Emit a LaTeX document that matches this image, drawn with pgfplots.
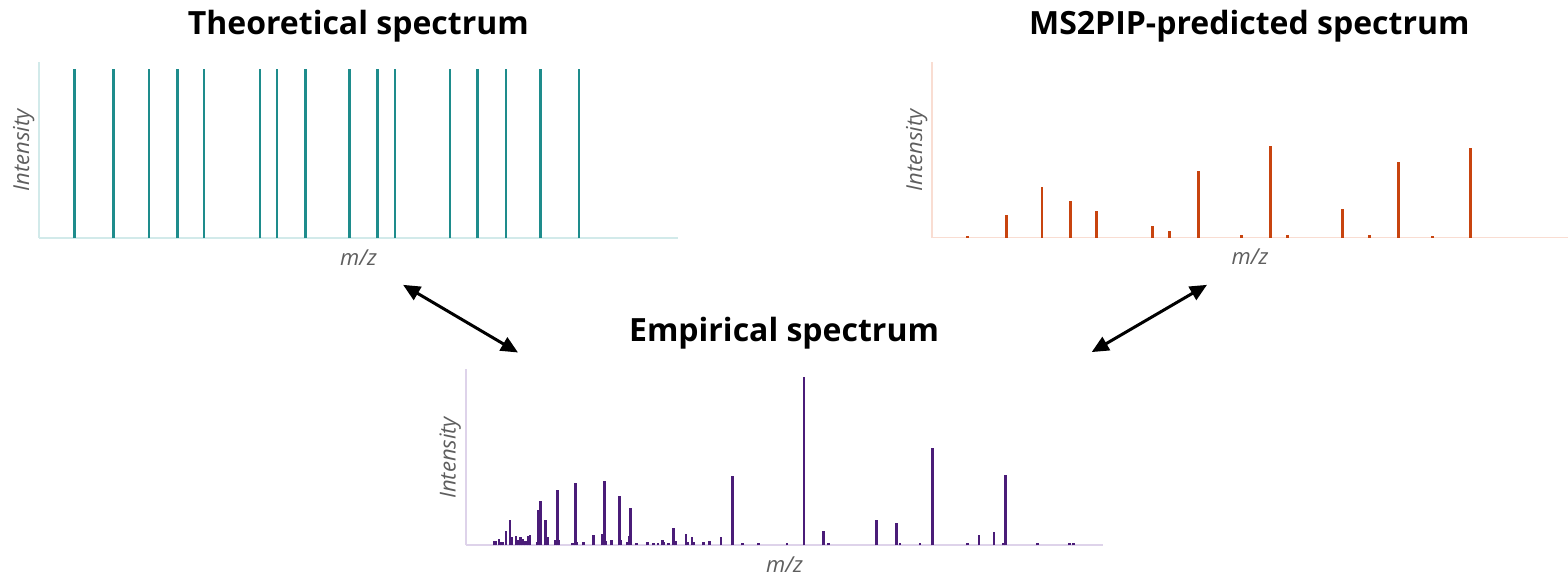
\documentclass[border=0pt]{standalone}
\usepackage{fontspec}
\setmainfont{Open Sans}
\usepackage{pgfplots}
\pgfplotsset{compat=1.18}
\usetikzlibrary{arrows.meta}
\definecolor{theoCol}{HTML}{1E8C8C}
\definecolor{theoAxis}{HTML}{D2EAEA}
\definecolor{predCol}{HTML}{C8440F}
\definecolor{predAxis}{HTML}{F9DDD2}
\definecolor{empCol}{HTML}{4A1C78}
\definecolor{empAxis}{HTML}{DED3EA}
\definecolor{lblGray}{HTML}{5E5E5E}
\pgfplotsset{
  spec base/.style={
    scale only axis, anchor=south west,
    ymin=0, ymax=176,
    axis x line*=bottom, axis y line*=left,
    xtick=\empty, ytick=\empty,
    clip=false,
    xlabel={\textit{m/z}}, ylabel={\textit{Intensity}},
    every axis x label/.style={at={([yshift=-0.11cm]axis description cs:0.5,0)},
      anchor=north, inner sep=0pt, font=\fontsize{0.22cm}{0.26cm}\selectfont, text=lblGray},
    every axis y label/.style={at={([xshift=-0.04cm]axis description cs:0,0.5)},
      rotate=90, anchor=south, inner sep=0pt, font=\fontsize{0.22cm}{0.26cm}\selectfont, text=lblGray},
  }
}
\newcommand{\ttl}{\fontsize{0.32cm}{0.38cm}\selectfont\bfseries}

\begin{document}
\begin{tikzpicture}
% theoretical
\begin{axis}[spec base, at={(0.39cm,3.36cm)}, width=6.39cm, height=1.76cm,
  xmin=39, xmax=678, axis line style={-, draw=theoAxis, line width=0.017cm}]
\addplot[ycomb, color=theoCol, line width=0.029cm] coordinates {
  (74.7,169)(113.7,169)(149,169)(177.7,169)(204,169)(260,169)(277,169)(305.7,169)
  (349.3,169)(377.7,169)(395,169)(450,169)(477.3,169)(506,169)(540.3,169)(579,169)
};
\end{axis}
% predicted
\begin{axis}[spec base, at={(9.32cm,3.365cm)}, width=6.36cm, height=1.755cm,
  xmin=932, xmax=1568, axis line style={-, draw=predAxis, line width=0.017cm}]
\addplot[ycomb, color=predCol, line width=0.028cm] coordinates {
  (967.7,1.5)(1006.3,23)(1042,50.6)(1070.3,37)(1096.7,26.3)(1152.7,11.3)(1169.7,7)
  (1198.3,66.6)(1241.7,2.5)(1270.3,92)(1287.7,2.5)(1342.3,28.7)(1369.7,2.5)
  (1398.3,76)(1432.3,1.5)(1470.7,89.7)
};
\end{axis}
% empirical
\begin{axis}[spec base, at={(4.657cm,0.287cm)}, width=6.376cm, height=1.76cm,
  xmin=465.7, xmax=1103.3, axis line style={-, draw=empAxis, line width=0.017cm}]
\addplot[ycomb, color=empCol, line width=0.025cm] coordinates {
  (494,4)(496,4)(499,6.6)(501.3,3)(503,3)(506,14.6)(510,25)(512,8)(516,9)(518.3,5)
  (520.7,8)(522.7,6)(525.3,4)(528,9.6)(530,10)(537.7,3)(538.7,35)(540.3,44.6)
  (545.7,25)(547.3,8)(555.7,5)(557.7,55)(559,5)(572.3,2)(575.3,62)(577,3)(583.7,3)
  (593.3,10)(602,11)(604.3,64)(605.7,4)(611.7,5)(619.3,49)(621,5)(627.7,3)(629.3,9)
  (630.7,37.7)(636.7,2)(647.7,3)(653.3,2)(658,2)(662.3,5)(664,3)(668.3,2)(673.7,17)
  (675.3,4)(686,11)(687.7,3)(692,8)(694,3)(703.7,3)(709.3,4)(721,8)(732.7,69)
  (742.7,2)(758.7,2)(787,2)(804,168)(823.7,14.6)(828.7,2)(876.3,25)(896.7,22.6)
  (900,2)(920,2)(932.3,97.6)(967.7,2)(979,10)(994,13.6)(1003,2)(1005.7,70)
  (1037.3,2)(1069.3,2)(1073.3,2)
};
\end{axis}
% titles and arrows, in pixel units from the top left
\begin{scope}[x=0.01cm, y=-0.01cm, shift={(0,5.74cm)}]
\node[anchor=base, inner sep=0pt] at (358.5,35) {\ttl Theoretical spectrum};
\node[anchor=base, inner sep=0pt] at (1250,35) {\ttl MS2PIP-predicted spectrum};
\node[anchor=base, inner sep=0pt] at (784.5,341.7) {\ttl Empirical spectrum};
\draw[line width=0.03cm, {Triangle[length=0.17cm,width=0.15cm]}-{Triangle[length=0.17cm,width=0.15cm]}]
  (403.3,285) -- (518.3,352.7);
\draw[line width=0.03cm, {Triangle[length=0.17cm,width=0.15cm]}-{Triangle[length=0.17cm,width=0.15cm]}]
  (1207.7,285) -- (1092.3,352.3);
\end{scope}
\pgfresetboundingbox
\useasboundingbox (0,0) rectangle (15.68cm,5.74cm);
\end{tikzpicture}
\end{document}
